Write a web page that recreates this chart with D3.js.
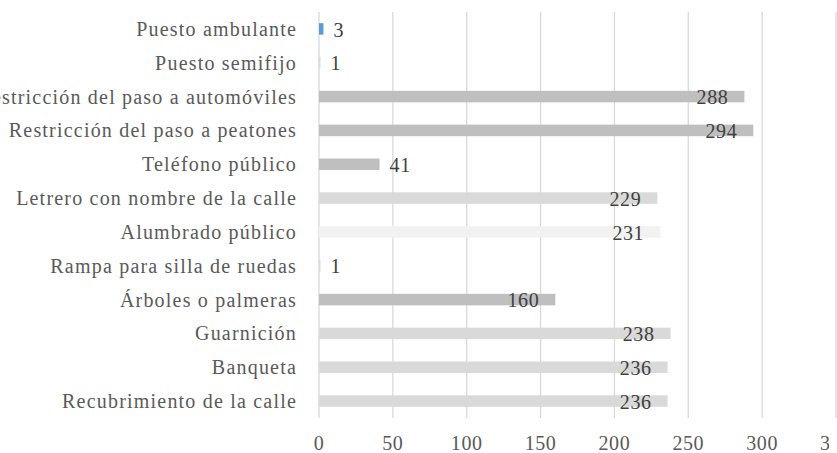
<!DOCTYPE html>
<html>
<head>
<meta charset="utf-8">
<script src="https://cdn.jsdelivr.net/npm/d3@7"></script>
<style>
  body { margin: 0; background: #fff; }
  svg { display: block; }
  text { font-family: "Liberation Serif", "Times New Roman", serif; }
</style>
</head>
<body>
<svg class="chart" width="837" height="453"></svg>
<script>
// categories top to bottom, as in the picture
var categories = [
  "Puesto ambulante",
  "Puesto semifijo",
  "Restricción del paso a automóviles",
  "Restricción del paso a peatones",
  "Teléfono público",
  "Letrero con nombre de la calle",
  "Alumbrado público",
  "Rampa para silla de ruedas",
  "Árboles o palmeras",
  "Guarnición",
  "Banqueta",
  "Recubrimiento de la calle"
];
var values = [3, 1, 288, 294, 41, 229, 231, 1, 160, 238, 236, 236];
var xTicks = [0, 50, 100, 150, 200, 250, 300, 350];

// bar fills, one per category
var barColors = ["#5b9bd5", "#d9d9d9", "#bfbfbf", "#bfbfbf", "#bfbfbf", "#d9d9d9",
                 "#f2f2f2", "#d9d9d9", "#bfbfbf", "#d9d9d9", "#d9d9d9", "#d9d9d9"];

var svg = d3.select(".chart"),
    width = +svg.attr("width"),
    height = +svg.attr("height");

var x = d3.scaleLinear().domain([0, 350]).range([319, 836]);
var y = d3.scaleBand().domain(categories).range([12, 418]).paddingInner(0.66).paddingOuter(0.33);

// the original picture is cropped on the right, the last tick label only shows its first digit
svg.append("clipPath").attr("id", "axisclip")
  .append("rect").attr("x", 0).attr("y", 0).attr("width", 829).attr("height", height);

// gridlines
svg.append("g")
  .selectAll("line")
  .data(xTicks)
  .enter().append("line")
  .attr("x1", d => x(d)).attr("x2", d => x(d))
  .attr("y1", 12).attr("y2", 418)
  .attr("stroke", "#d9d9d9")
  .attr("stroke-width", 1.3);

// bars
svg.append("g")
  .selectAll("rect")
  .data(values)
  .enter().append("rect")
  .attr("x", x(0))
  .attr("y", (d, i) => y(categories[i]))
  .attr("width", d => x(d) - x(0))
  .attr("height", y.bandwidth())
  .attr("fill", (d, i) => barColors[i]);

// category labels
svg.append("g")
  .selectAll("text")
  .data(categories)
  .enter().append("text")
  .attr("x", 297)
  .attr("y", d => y(d) + y.bandwidth() / 2)
  .attr("dy", "0.35em")
  .attr("text-anchor", "end")
  .attr("fill", "#595959")
  .style("font-size", "20px")
  .style("letter-spacing", "1.2px")
  .text(d => d);

// value labels: inside end for long bars, outside for short ones
svg.append("g")
  .selectAll("text")
  .data(values)
  .enter().append("text")
  .attr("x", d => (x(d) - x(0) > 70) ? x(d) - 16 : x(d) + 10)
  .attr("y", (d, i) => y(categories[i]) + y.bandwidth() / 2)
  .attr("dy", "0.38em")
  .attr("text-anchor", d => (x(d) - x(0) > 70) ? "end" : "start")
  .attr("fill", "#404040")
  .style("font-size", "20px")
  .style("letter-spacing", "0.6px")
  .text(d => d);

// x axis tick labels
svg.append("g")
  .attr("clip-path", "url(#axisclip)")
  .selectAll("text")
  .data(xTicks)
  .enter().append("text")
  .attr("x", d => x(d))
  .attr("y", 450)
  .attr("text-anchor", "middle")
  .attr("fill", "#595959")
  .style("font-size", "20px")
  .style("letter-spacing", "0.6px")
  .text(d => d);
</script>
</body>
</html>
